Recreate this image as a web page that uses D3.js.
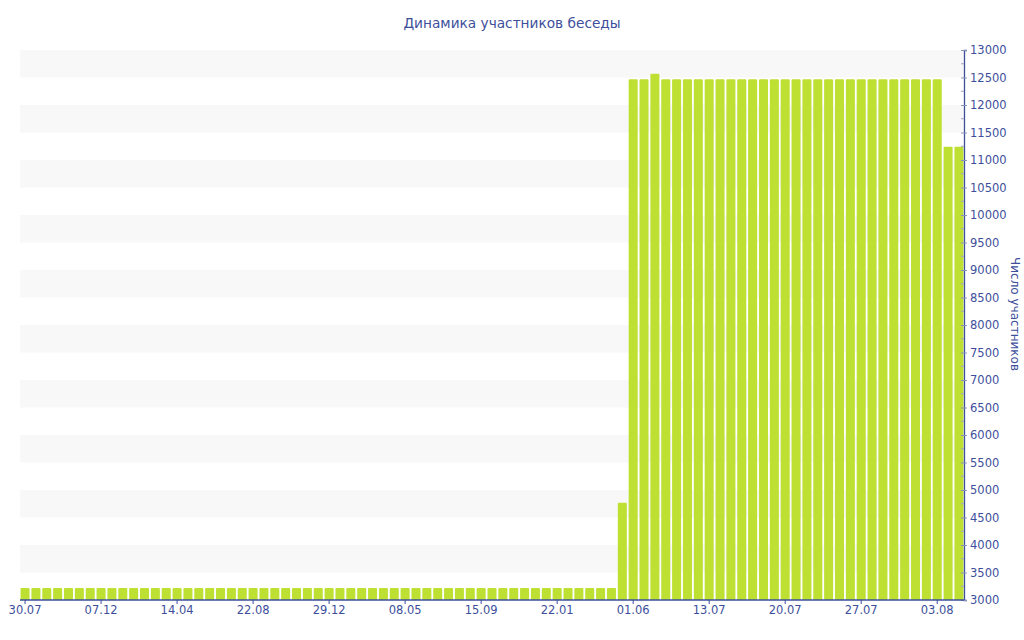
<!DOCTYPE html>
<html>
<head>
<meta charset="utf-8">
<script src="https://cdn.jsdelivr.net/npm/d3@7"></script>
<style>
  body { margin: 0; background: #fff; }
  svg { display: block; font-family: "DejaVu Sans", Verdana, sans-serif; }
</style>
</head>
<body>
<svg id="chart" width="1024" height="640"></svg>
<script>
const titleText = "Динамика участников беседы";
const yAxisTitle = "Число участников";

const categories = [
  "30.07","17.08","05.09","23.09","12.10","30.10","18.11",
  "07.12","25.12","12.01","31.01","18.02","08.03","27.03",
  "14.04","02.05","21.05","08.06","27.06","15.07","03.08",
  "22.08","09.09","28.09","16.10","03.11","22.11","10.12",
  "29.12","16.01","04.02","23.02","12.03","31.03","19.04",
  "08.05","26.05","14.06","02.07","21.07","08.08","27.08",
  "15.09","03.10","22.10","09.11","27.11","16.12","03.01",
  "22.01","09.02","28.02","18.03","06.04","24.04","13.05",
  "01.06","07.06","13.06","19.06","25.06","01.07","07.07",
  "13.07","14.07","15.07","16.07","17.07","18.07","19.07",
  "20.07","21.07","22.07","23.07","24.07","25.07","26.07",
  "27.07","28.07","29.07","30.07","31.07","01.08","02.08",
  "03.08","04.08","05.08"
];

const members = [
  3220,3220,3220,3220,3220,3220,3220,
  3220,3220,3220,3220,3220,3220,3220,
  3220,3220,3220,3220,3220,3220,3220,
  3220,3220,3220,3220,3220,3220,3220,
  3220,3220,3220,3220,3220,3220,3220,
  3220,3220,3220,3220,3220,3220,3220,
  3220,3220,3220,3220,3220,3220,3220,
  3220,3220,3220,3220,3220,3220,4770,
  12470,12470,12570,12470,12470,12470,12470,
  12470,12470,12470,12470,12470,12470,12470,
  12470,12470,12470,12470,12470,12470,12470,
  12470,12470,12470,12470,12470,12470,12470,
  12470,11240,11240
];

const xTickLabels = ["30.07","07.12","14.04","22.08","29.12","08.05","15.09","22.01","01.06","13.07","20.07","27.07","03.08"];
const xTickIndices = [0,7,14,21,28,35,42,49,56,63,70,77,84];
const yTicks = [3000,3500,4000,4500,5000,5500,6000,6500,7000,7500,8000,8500,9000,9500,10000,10500,11000,11500,12000,12500,13000];
const yMinorTicks = [3250,3750,4250,4750,5250,5750,6250,6750,7250,7750,8250,8750,9250,9750,10250,10750,11250,11750,12250,12750];

const axisColor = "#3d4f9b";
const textColor = "#3d4f9b";
const barColor = "#bde032";
const bandColor = "#f8f8f8";

const svg = d3.select("#chart");
const plotLeft = 20, plotRight = 964, plotTop = 50, plotBottom = 600;

const x = d3.scaleBand().domain(d3.range(categories.length)).range([plotLeft, plotRight]).paddingInner(0.17).paddingOuter(0.05);
const y = d3.scaleLinear().domain([3000, 13000]).range([plotBottom, plotTop]);

// alternating bands
const bands = [];
for (let i = 1; i < yTicks.length - 1; i += 2) bands.push([yTicks[i], yTicks[i + 1]]);
svg.append("g").selectAll("rect").data(bands).join("rect")
  .attr("x", plotLeft).attr("width", plotRight - plotLeft)
  .attr("y", d => y(d[1])).attr("height", d => y(d[0]) - y(d[1]))
  .attr("fill", bandColor);

// bars
svg.append("g").selectAll("rect").data(members).join("rect")
  .attr("x", (d, i) => x(i))
  .attr("width", x.bandwidth())
  .attr("y", d => y(d))
  .attr("height", d => y(3000) - y(d))
  .attr("rx", 1)
  .attr("fill", barColor);

// title
svg.append("text").attr("x", 512).attr("y", 28).attr("text-anchor", "middle")
  .attr("font-size", 13.7).attr("fill", textColor).text(titleText);

// right axis
const yAxis = d3.axisRight(y).tickValues(yTicks).tickSize(3).tickPadding(3).tickFormat(d3.format("d"));
const ga = svg.append("g").attr("transform", `translate(${plotRight},0)`).call(yAxis);
ga.select(".domain").attr("stroke", axisColor).attr("stroke-width", 1.3);
ga.selectAll(".tick line").attr("stroke", "#8a93b8").attr("x1", -3);
ga.selectAll(".tick text").attr("fill", textColor).attr("font-size", 11.5).attr("font-family", "DejaVu Sans, Verdana, sans-serif");
// minor ticks
svg.append("g").selectAll("line").data(yMinorTicks).join("line")
  .attr("x1", plotRight - 3).attr("x2", plotRight)
  .attr("y1", d => y(d)).attr("y2", d => y(d))
  .attr("stroke", "#a0a6c0");

// bottom axis
const xAxis = d3.axisBottom(x).tickValues(xTickIndices).tickSize(4).tickPadding(2)
  .tickFormat(i => xTickLabels[xTickIndices.indexOf(i)]);
const gx = svg.append("g").attr("transform", `translate(0,${plotBottom})`).call(xAxis);
gx.select(".domain").attr("stroke", axisColor).attr("stroke-width", 1.3).attr("d", `M${plotLeft},0H${plotRight}`);
gx.selectAll(".tick line").attr("stroke", axisColor);
gx.selectAll(".tick text").attr("fill", textColor).attr("font-size", 11.5).attr("font-family", "DejaVu Sans, Verdana, sans-serif");

// y axis title
svg.append("text").attr("transform", `translate(1011,314) rotate(90)`)
  .attr("text-anchor", "middle").attr("font-size", 12).attr("fill", textColor).text(yAxisTitle);
</script>
</body>
</html>
